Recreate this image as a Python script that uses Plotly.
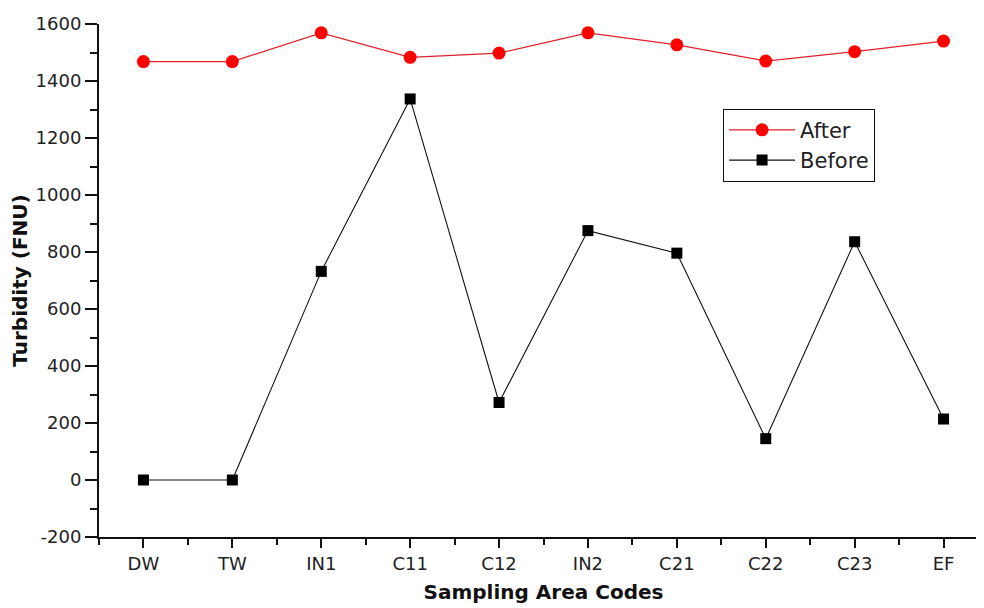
import plotly.graph_objects as go

categories = ["DW", "TW", "IN1", "C11", "C12", "IN2", "C21", "C22", "C23", "EF"]
after_vals = [1468, 1468, 1569, 1483, 1498, 1569, 1527, 1470, 1503, 1540]
before_vals = [0, 0, 732, 1337, 272, 875, 796, 145, 836, 214]
y_ticks = [-200, 0, 200, 400, 600, 800, 1000, 1200, 1400, 1600]

xpos = list(range(len(categories)))
minor_x = [i + 0.5 for i in range(-1, len(categories))]

fig = go.Figure()
fig.add_trace(go.Scatter(
    x=xpos, y=after_vals, name="After", mode="lines+markers",
    line=dict(color="#e0202a", width=1.2),
    marker=dict(symbol="circle", size=13, color="#ff0000"),
))
fig.add_trace(go.Scatter(
    x=xpos, y=before_vals, name="Before", mode="lines+markers",
    line=dict(color="#111111", width=1.1),
    marker=dict(symbol="square", size=11, color="#000000"),
))

font_family = "DejaVu Sans, Arial, sans-serif"
fig.update_layout(
    width=984, height=608,
    margin=dict(l=91, r=4, t=16, b=79),
    plot_bgcolor="white", paper_bgcolor="white",
    font=dict(family=font_family, color="#222222", size=18),
    showlegend=True,
    legend=dict(
        x=0.702, y=0.835, xanchor="left", yanchor="top",
        bgcolor="white", bordercolor="#111111", borderwidth=1,
        font=dict(size=21, color="#222222"),
        tracegroupgap=0, itemwidth=66,
    ),
)
fig.update_xaxes(
    range=[-0.5, 9.5], tickmode="array", tickvals=xpos, ticktext=categories,
    showgrid=False, zeroline=False, showline=True, linecolor="#111111", linewidth=2,
    ticks="outside", ticklen=9, tickwidth=2, tickcolor="#111111",
    minor=dict(tickvals=minor_x, ticks="outside", ticklen=6, tickwidth=2, tickcolor="#111111"),
    title=dict(text="<b>Sampling Area Codes</b>", font=dict(size=20, color="#111111"), standoff=12),
    tickfont=dict(size=18),
)
fig.update_yaxes(
    range=[-200, 1600], tickmode="array", tickvals=y_ticks,
    ticktext=[str(v) for v in y_ticks],
    showgrid=False, zeroline=False, showline=True, linecolor="#111111", linewidth=2,
    ticks="outside", ticklen=12, tickwidth=2, tickcolor="#111111",
    minor=dict(dtick=100, ticks="outside", ticklen=7, tickwidth=2, tickcolor="#111111"),
    title=dict(text="<b>Turbidity (FNU)</b>", font=dict(size=20, color="#111111"), standoff=3),
    tickfont=dict(size=18),
)

fig.write_html("out.html")
